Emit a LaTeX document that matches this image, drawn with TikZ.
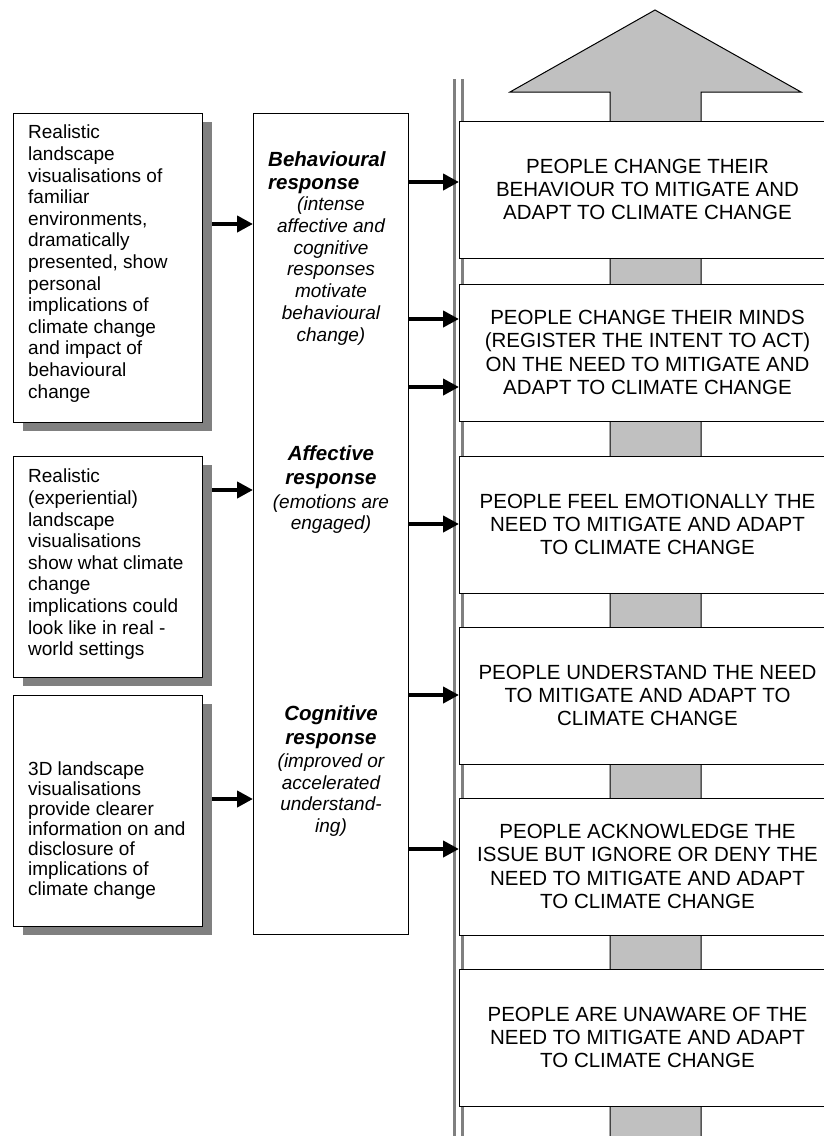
\documentclass[tikz,border=0pt]{standalone}
\usepackage{fontspec}
\setmainfont{Liberation Sans}
\usetikzlibrary{arrows.meta,shadows}
\definecolor{arrowgray}{RGB}{192,192,192}
\definecolor{linegray}{RGB}{128,128,128}
\begin{document}
\begin{tikzpicture}[x=1pt,y=-1pt,
 box/.style={draw=black, line width=1pt, fill=white, inner sep=0pt, outer sep=0pt, anchor=north west},
 lbox/.style={box, minimum width=189pt, drop shadow={shadow xshift=10pt, shadow yshift=-9pt, fill=linegray, opacity=1}},
 rbox/.style={box, minimum width=377pt, minimum height=137pt, align=center, font=\fontsize{20.5}{23.3}\selectfont},
 ltext/.style={anchor=north west, align=left, inner sep=0pt, font=\fontsize{19}{21.6}\selectfont},
 head/.style={align=center, inner sep=0pt, font=\fontsize{20.5}{23.5}\selectfont\bfseries\itshape},
 sub/.style={align=center, inner sep=0pt, font=\fontsize{19}{21.8}\selectfont\itshape},
 conn/.style={line width=4pt, -{Triangle[length=16pt,width=16pt]}},
 rail/.style={draw=linegray, line width=3.5pt}
]
\useasboundingbox (0,0) rectangle (824,1136);
\fill[white] (0,0) rectangle (824,1136);
% big upward arrow
\filldraw[fill=arrowgray, draw=black, line width=1pt] (610,1145) -- (610,92) -- (510,92) -- (655,10) -- (801,92) -- (701,92) -- (701,1145);
% rails
\draw[rail] (454.5,79) -- (454.5,1145);
\draw[rail] (462.7,79) -- (462.7,1145);
% right stage boxes
\node[rbox] (R1) at (459,121) {PEOPLE CHANGE THEIR\\BEHAVIOUR TO MITIGATE AND\\ADAPT TO CLIMATE CHANGE};
\node[rbox] (R2) at (459,284) {PEOPLE CHANGE THEIR MINDS\\(REGISTER THE INTENT TO ACT)\\ON THE NEED TO MITIGATE AND\\ADAPT TO CLIMATE CHANGE};
\node[rbox] (R3) at (459,456) {PEOPLE FEEL EMOTIONALLY THE\\NEED TO MITIGATE AND ADAPT\\TO CLIMATE CHANGE};
\node[rbox] (R4) at (459,627) {PEOPLE UNDERSTAND THE NEED\\TO MITIGATE AND ADAPT TO\\CLIMATE CHANGE};
\node[rbox] (R5) at (459,798) {PEOPLE ACKNOWLEDGE THE\\ISSUE BUT IGNORE OR DENY THE\\NEED TO MITIGATE AND ADAPT\\TO CLIMATE CHANGE};
\node[rbox] (R6) at (459,969) {PEOPLE ARE UNAWARE OF THE\\NEED TO MITIGATE AND ADAPT\\TO CLIMATE CHANGE};
% left boxes
\node[lbox, minimum height=309pt] (L1) at (13,113) {};
\node[lbox, minimum height=221pt] (L2) at (13,456) {};
\node[lbox, minimum height=231pt] (L3) at (13,695) {};
\node[ltext] (T1) at (28,125) {Realistic\\landscape\\visualisations of\\familiar\\environments,\\dramatically\\presented, show\\personal\\implications of\\climate change\\and impact of\\behavioural\\change};
\node[ltext] (T2) at (28,469) {Realistic\\(experiential)\\landscape\\visualisations\\show what climate\\change\\implications could\\look like in real -\\world settings};
\node[ltext, font=\fontsize{19}{19.9}\selectfont] (T3) at (28,762) {3D landscape\\visualisations\\provide clearer\\information on and\\disclosure of\\implications of\\climate change};
% middle box
\node[box, minimum width=155pt, minimum height=821pt] (M) at (253,113) {};
\node[head, align=left, anchor=north west] (H1) at (268,151) {Behavioural\\response};
\node[sub] (S1) at (331,271) {(intense\\affective and\\cognitive\\responses\\motivate\\behavioural\\change)};
\node[head] (H2) at (331,467) {Affective\\response};
\node[sub] (S2) at (331,514) {(emotions are\\engaged)};
\node[head] (H3) at (331,727) {Cognitive\\response};
\node[sub] (S3) at (331,795) {(improved or\\accelerated\\understand-\\ing)};
% connectors left -> middle
\draw[conn, shorten <=10pt] (L1.east |- 0,224) -- (M.west |- 0,224);
\draw[conn, shorten <=10pt] (L2.east |- 0,490) -- (M.west |- 0,490);
\draw[conn, shorten <=10pt] (L3.east |- 0,799) -- (M.west |- 0,799);
% connectors middle -> right
\draw[conn] (M.east |- 0,182) -- (R1.west |- 0,182);
\draw[conn] (M.east |- 0,319) -- (R2.west |- 0,319);
\draw[conn] (M.east |- 0,387) -- (R2.west |- 0,387);
\draw[conn] (M.east |- 0,524) -- (R3.west |- 0,524);
\draw[conn] (M.east |- 0,695) -- (R4.west |- 0,695);
\draw[conn] (M.east |- 0,849) -- (R5.west |- 0,849);
\end{tikzpicture}
\end{document}
